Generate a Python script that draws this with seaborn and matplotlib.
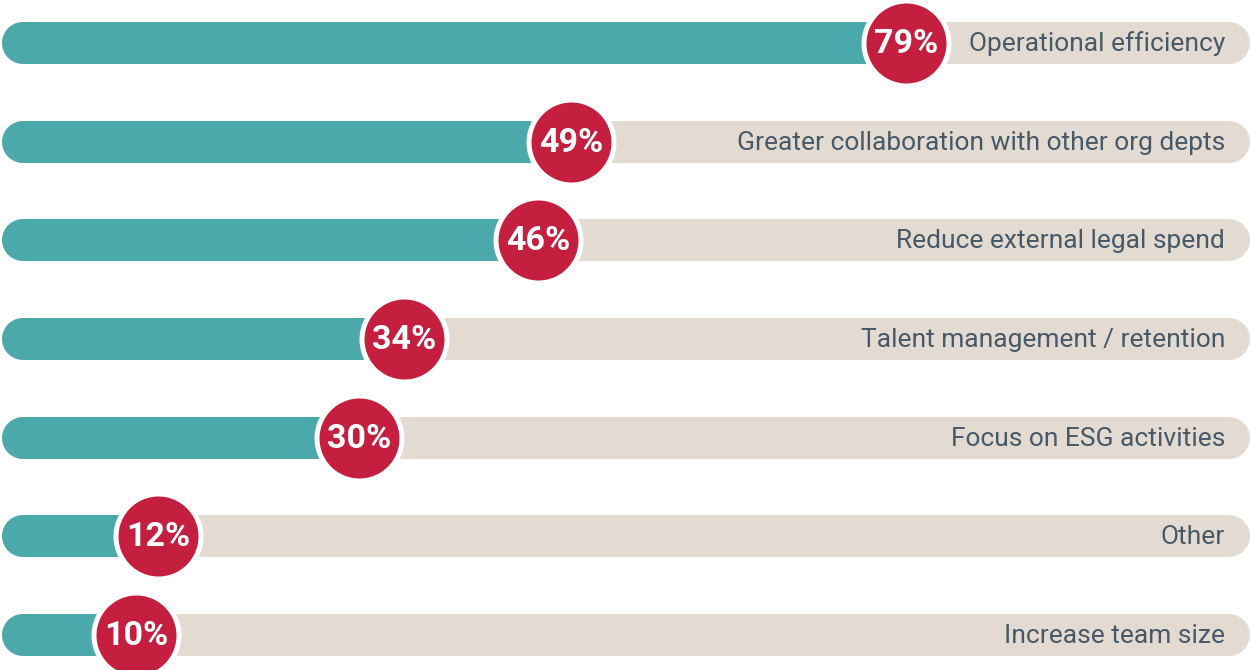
import numpy as np
import pandas as pd
import seaborn as sns
import matplotlib.pyplot as plt

# survey results, top to bottom
categories = [
    "Operational efficiency",
    "Greater collaboration with other org depts",
    "Reduce external legal spend",
    "Talent management / retention",
    "Focus on ESG activities",
    "Other",
    "Increase team size",
]
percent = [79, 49, 46, 34, 30, 12, 10]

teal = "#4BA9AB"
beige = "#E3DBD2"
red = "#C41F3F"
text_col = "#475868"

sns.set_theme(style="white")
plt.rcParams["font.family"] = ["Roboto", "DejaVu Sans"]

df = pd.DataFrame({"label": categories, "pct": percent})
df["row"] = np.arange(len(df))

fig = plt.figure(figsize=(12.5, 6.7), dpi=100)
ax = fig.add_axes([0, 0, 1, 1])
ax.set_xlim(-2.195, 109.81)
ax.set_ylim(6.355, -0.436)
ax.axis("off")

bar_lw = 42 * 72 / 100  # 42 px thick pills
x_left = -0.134
x_right = 107.93

# background track, then the filled part, both as round-capped lines
track = ax.hlines(df["row"], x_left, x_right, colors=beige, linewidth=bar_lw, zorder=1)
track.set_capstyle("round")
fill = ax.hlines(df["row"], x_left, df["pct"], colors=teal, linewidth=bar_lw, zorder=2)
fill.set_capstyle("round")

sns.scatterplot(data=df, x="pct", y="row", s=3745, color=red, edgecolor="white",
                linewidth=3.6, ax=ax, zorder=3, legend=False)

for _, r in df.iterrows():
    ax.text(r["pct"], r["row"] + 0.01, f"{r['pct']}%", ha="center", va="center",
            color="white", fontsize=24.5, fontweight="bold", zorder=4)
    ax.text(107.57, r["row"] + 0.01, r["label"], ha="right", va="center",
            color=text_col, fontsize=19, zorder=4)

ax.set_xlabel("")
ax.set_ylabel("")
plt.savefig("out.png", dpi=100)
